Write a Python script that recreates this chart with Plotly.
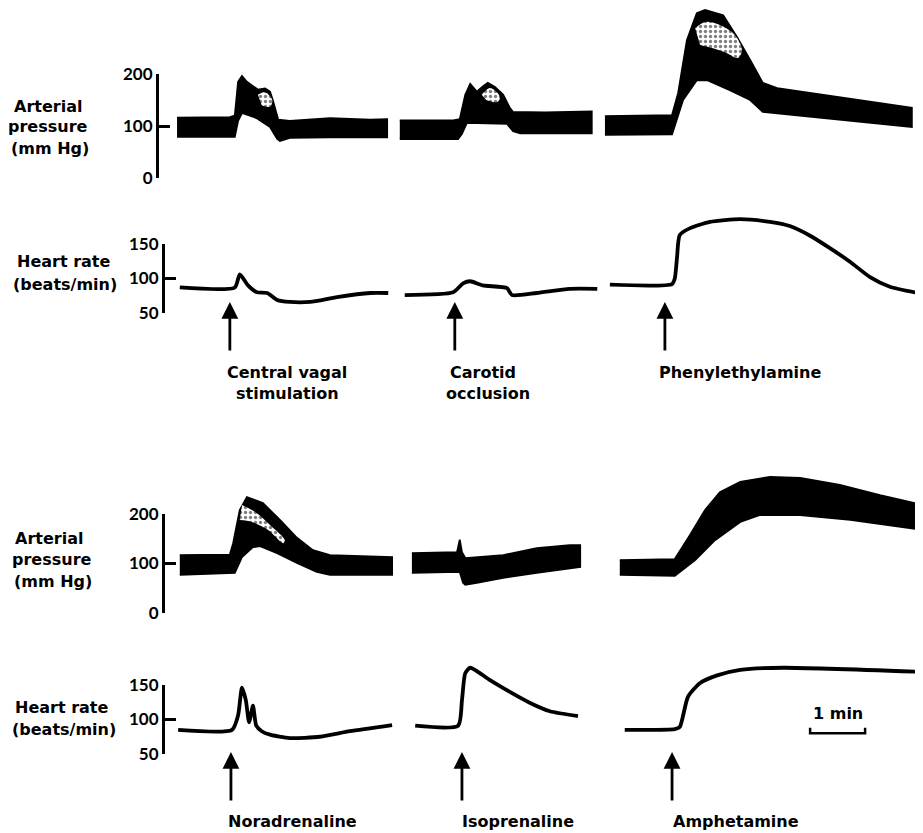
import plotly.graph_objects as go

W, H = 923, 833
TICKFONT = dict(family="Lato, sans-serif", size=17, color="black", weight="bold")
LABFONT = dict(family="DejaVu Sans, sans-serif", size=16, color="black", weight="bold")

# ---------------- data (time in minutes) ----------------
# Top panel: arterial pressure bands (systolic / diastolic), mm Hg
vagal_sys_t = [0.31, 1.27, 1.36, 1.42, 1.49, 1.58, 1.78, 1.91, 2.00, 2.05, 2.15, 2.36, 3.09, 3.82, 4.13]
vagal_sys = [116, 117, 120, 185, 196, 185, 170, 172, 166, 150, 112, 110, 115, 112, 113]
vagal_dia_t = [0.31, 1.36, 1.42, 1.49, 1.76, 2.00, 2.13, 2.18, 2.36, 3.09, 4.13]
vagal_dia = [79, 79, 110, 125, 115, 98, 75, 71, 77, 78, 78]

carotid_sys_t = [4.36, 5.33, 5.45, 5.55, 5.64, 5.76, 5.87, 5.96, 6.09, 6.24, 6.36, 6.42, 7.00, 7.85]
carotid_sys = [111, 111, 113, 160, 181, 166, 176, 183, 175, 160, 135, 127, 126, 128]
carotid_dia_t = [4.36, 5.42, 5.49, 5.58, 6.31, 6.42, 6.55, 7.85]
carotid_dia = [75, 75, 85, 106, 104, 90, 86, 86]

phenyl_sys_t = [8.09, 9.31, 9.42, 9.58, 9.76, 9.91, 10.24, 10.49, 10.73, 10.96, 11.22, 12.05, 13.67]
phenyl_sys = [119, 121, 163, 265, 317, 323, 313, 271, 227, 183, 173, 160, 135]
phenyl_dia_t = [8.09, 9.31, 9.33, 9.51, 9.76, 9.95, 10.36, 10.73, 10.96, 11.45, 13.67]
phenyl_dia = [83, 84, 92, 150, 188, 188, 169, 150, 127, 121, 98]

# light (speckled) regions inside the pressure peaks
vagal_light_t = [1.78, 1.91, 2.04, 2.00, 1.85]
vagal_light = [160, 165, 150, 137, 140]
carotid_light_t = [5.85, 6.00, 6.18, 6.13, 5.93]
carotid_light = [160, 173, 156, 146, 150]
phenyl_light_t = [9.73, 9.91, 10.18, 10.45, 10.58, 10.51, 10.27, 10.04, 9.82]
phenyl_light = [288, 300, 294, 275, 246, 231, 242, 250, 256]
nor_light_t = [1.49, 1.73, 2.00, 2.27, 2.24, 1.96, 1.67, 1.45]
nor_light = [218, 204, 178, 147, 141, 168, 184, 188]

# Top panel: heart rate, beats/min
vagal_hr_t = [0.36, 1.36, 1.45, 1.60, 1.76, 1.95, 2.13, 2.36, 2.73, 3.22, 3.82, 4.15]
vagal_hr = [87, 87, 106, 90, 80, 79, 69, 66, 66, 73, 79, 79]
carotid_hr_t = [4.45, 5.33, 5.51, 5.64, 5.87, 6.31, 6.40, 6.85, 7.45, 7.95]
carotid_hr = [76, 80, 93, 96, 90, 86, 76, 79, 85, 85]
phenyl_hr_t = [8.18, 9.31, 9.36, 9.40, 9.45, 9.64, 10.00, 10.55, 11.09, 11.45, 11.82, 12.18, 12.55, 12.91, 13.27, 13.78]
phenyl_hr = [91, 92, 100, 130, 163, 173, 182, 186, 182, 176, 162, 144, 124, 102, 88, 79]

# Bottom panel: arterial pressure bands, mm Hg
nor_sys_t = [0.36, 1.27, 1.33, 1.45, 1.58, 1.87, 2.18, 2.49, 2.78, 3.09, 4.22]
nor_sys = [117, 118, 141, 208, 234, 222, 188, 152, 127, 117, 113]
nor_dia_t = [0.36, 1.36, 1.49, 1.69, 1.82, 2.13, 2.49, 2.85, 3.09, 4.22]
nor_dia = [77, 81, 113, 133, 135, 121, 101, 83, 77, 77]

iso_sys_t = [4.58, 5.40, 5.45, 5.49, 5.55, 6.24, 6.85, 7.45, 7.64]
iso_sys = [121, 123, 148, 123, 111, 117, 131, 137, 137]
iso_dia_t = [4.58, 5.45, 5.51, 5.55, 5.76, 6.24, 6.85, 7.64]
iso_dia = [81, 83, 61, 57, 61, 71, 81, 93]

amph_sys_t = [8.36, 9.36, 9.64, 9.91, 10.18, 10.55, 11.09, 11.64, 12.36, 13.09, 13.87]
amph_sys = [107, 109, 158, 208, 244, 265, 275, 273, 259, 238, 218]
amph_dia_t = [8.36, 9.36, 9.73, 10.09, 10.55, 10.91, 11.64, 12.55, 13.87]
amph_dia = [77, 75, 107, 147, 184, 198, 198, 188, 168]

# Bottom panel: heart rate, beats/min
nor_hr_t = [0.33, 1.31, 1.42, 1.49, 1.56, 1.62, 1.69, 1.75, 1.85, 2.00, 2.36, 2.91, 3.45, 4.22]
nor_hr = [85, 85, 106, 146, 128, 96, 120, 91, 83, 78, 73, 75, 83, 92]
iso_hr_t = [4.64, 5.42, 5.49, 5.55, 5.64, 6.00, 6.36, 6.73, 7.09, 7.60]
iso_hr = [91, 91, 128, 167, 175, 157, 140, 124, 112, 105]
amph_hr_t = [8.45, 9.36, 9.45, 9.60, 9.82, 10.13, 10.55, 11.33, 13.87]
amph_hr = [85, 86, 89, 133, 153, 164, 172, 175, 169]

# Events (arrow times, minutes) and their labels
top_events_t = [1.27, 5.36, 9.18]
bottom_events_t = [1.29, 5.49, 9.31]
top_labels_line1 = ["Central vagal", "Carotid", "Phenylethylamine"]
top_labels_line2 = ["stimulation", "occlusion", ""]
bottom_labels = ["Noradrenaline", "Isoprenaline", "Amphetamine"]

pressure_ticks = [0, 100, 200]
hr_ticks = [50, 100, 150]

scale_bar_t = [11.82, 11.82, 12.82, 12.82]
scale_bar_v = [88, 80, 80, 88]

# ---------------- layout helpers (positions in screen pixels) ----------------
OFF = 8  # page offset of the plot div
X0_PX, PX_PER_MIN = 160.0, 55.0
def fx(px): return (px - OFF) / W
def fy(py): return 1 - (py - OFF) / H
def rng(p_top, p_bot, v1, p1, v2, p2):
    s = (v1 - v2) / (p1 - p2)
    return [v1 + (p_bot - p1) * s, v1 + (p_top - p1) * s]

fig = go.Figure()

def band(ts, sy, td, dy, yax):
    fig.add_trace(go.Scatter(
        x=ts + td[::-1], y=sy + dy[::-1], fill="toself", fillcolor="black",
        mode="lines", line=dict(color="black", width=1.8), yaxis=yax,
        hoverinfo="skip", showlegend=False))

def light(t, v, yax):
    fig.add_trace(go.Scatter(
        x=t, y=v, fill="toself", mode="lines",
        fillpattern=dict(shape=".", bgcolor="white", fgcolor="black", size=5, solidity=0.35),
        line=dict(color="rgba(0,0,0,0)", width=0, shape="spline"), yaxis=yax,
        hoverinfo="skip", showlegend=False))

def hr_line(t, v, yax):
    fig.add_trace(go.Scatter(
        x=t, y=v, mode="lines", line=dict(color="black", width=3.8, shape="spline", smoothing=0.6),
        yaxis=yax, hoverinfo="skip", showlegend=False))

band(vagal_sys_t, vagal_sys, vagal_dia_t, vagal_dia, "y")
band(carotid_sys_t, carotid_sys, carotid_dia_t, carotid_dia, "y")
band(phenyl_sys_t, phenyl_sys, phenyl_dia_t, phenyl_dia, "y")
light(vagal_light_t, vagal_light, "y")
light(carotid_light_t, carotid_light, "y")
light(phenyl_light_t, phenyl_light, "y")
hr_line(vagal_hr_t, vagal_hr, "y2")
hr_line(carotid_hr_t, carotid_hr, "y2")
hr_line(phenyl_hr_t, phenyl_hr, "y2")
band(nor_sys_t, nor_sys, nor_dia_t, nor_dia, "y3")
band(iso_sys_t, iso_sys, iso_dia_t, iso_dia, "y3")
band(amph_sys_t, amph_sys, amph_dia_t, amph_dia, "y3")
light(nor_light_t, nor_light, "y3")
hr_line(nor_hr_t, nor_hr, "y4")
hr_line(iso_hr_t, iso_hr, "y4")
hr_line(amph_hr_t, amph_hr, "y4")

# scale bar
fig.add_trace(go.Scatter(x=scale_bar_t, y=scale_bar_v, mode="lines",
                         line=dict(color="black", width=2.5), yaxis="y4",
                         hoverinfo="skip", showlegend=False))

# invisible traces so the bracket axes get drawn
for yax in ["y5", "y6", "y7", "y8"]:
    fig.add_trace(go.Scatter(x=[None], y=[None], yaxis=yax, mode="markers",
                             hoverinfo="skip", showlegend=False))

data_axes = {
    "yaxis":  dict(domain=[fy(206), fy(9)],   range=rng(9, 206, 200, 74, 0, 178)),
    "yaxis2": dict(domain=[fy(335), fy(206)], range=rng(206, 335, 150, 244, 50, 313)),
    "yaxis3": dict(domain=[fy(645), fy(440)], range=rng(440, 645, 200, 514, 0, 613)),
    "yaxis4": dict(domain=[fy(765), fy(645)], range=rng(645, 765, 150, 685, 50, 754)),
}
for k, v in data_axes.items():
    v.update(visible=False, fixedrange=True)
    fig.layout[k] = v

def bracket(domain_py, rngv, ticks, xpx):
    return dict(domain=[fy(domain_py[1]), fy(domain_py[0])], range=rngv,
                anchor="free", position=fx(xpx), showline=True, linewidth=3,
                linecolor="black", ticks="inside", ticklen=11, tickwidth=3,
                tickcolor="black", tickvals=ticks, ticktext=[str(t) for t in ticks],
                tickfont=TICKFONT, showgrid=False, zeroline=False, fixedrange=True)

fig.layout["yaxis5"] = bracket((74, 178), [0, 200], pressure_ticks, 157)
fig.layout["yaxis6"] = bracket((244, 313), [50, 150], hr_ticks, 163)
fig.layout["yaxis7"] = bracket((514, 613), [0, 200], pressure_ticks, 163)
fig.layout["yaxis8"] = bracket((685, 754), [50, 150], hr_ticks, 163)

fig.update_layout(
    width=W, height=H, margin=dict(l=0, r=0, t=0, b=0, pad=0, autoexpand=False),
    paper_bgcolor="white", plot_bgcolor="rgba(0,0,0,0)",
    xaxis=dict(visible=False, domain=[0, 1], fixedrange=True,
               range=[(OFF - X0_PX) / PX_PER_MIN, (W + OFF - X0_PX) / PX_PER_MIN]),
    showlegend=False, hovermode=False,
)

ann = []
def text(px, py, s, font=LABFONT, xanchor="center"):
    ann.append(dict(x=fx(px), y=fy(py), xref="paper", yref="paper", text=s,
                    showarrow=False, font=font, xanchor=xanchor, yanchor="middle",
                    borderpad=0))

# axis titles, one annotation per line
for s, px, py in [("Arterial", 48, 106), ("pressure", 48, 127), ("(mm Hg)", 50, 148),
                  ("Heart rate", 63, 262), ("(beats/min)", 65, 284),
                  ("Arterial", 49, 538), ("pressure", 52, 559), ("(mm Hg)", 53, 581),
                  ("Heart rate", 61, 707), ("(beats/min)", 64, 729)]:
    text(px, py, s)

def arrow(t, tip_py):
    ann.append(dict(x=t, y=fy(tip_py), xref="x", yref="paper", text="",
                    showarrow=True, ax=0, ay=50, arrowhead=2, arrowsize=1.2,
                    arrowwidth=2.8, arrowcolor="black", standoff=0))

for t in top_events_t:
    arrow(t, 302)
for t in bottom_events_t:
    arrow(t, 752)

for s, px in zip(top_labels_line1, [287, 483, 740]):
    text(px, 372, s)
for s, px in zip(top_labels_line2, [287, 488, 740]):
    if s:
        text(px, 393, s)
for s, px in zip(bottom_labels, [292, 518, 736]):
    text(px, 821, s)

ann.append(dict(x=(scale_bar_t[0] + scale_bar_t[2]) / 2, y=109, xref="x", yref="y4",
                text="1 min", showarrow=False, font=LABFONT, yanchor="middle", borderpad=0))

fig.update_layout(annotations=ann)
fig.write_html("out.html")
